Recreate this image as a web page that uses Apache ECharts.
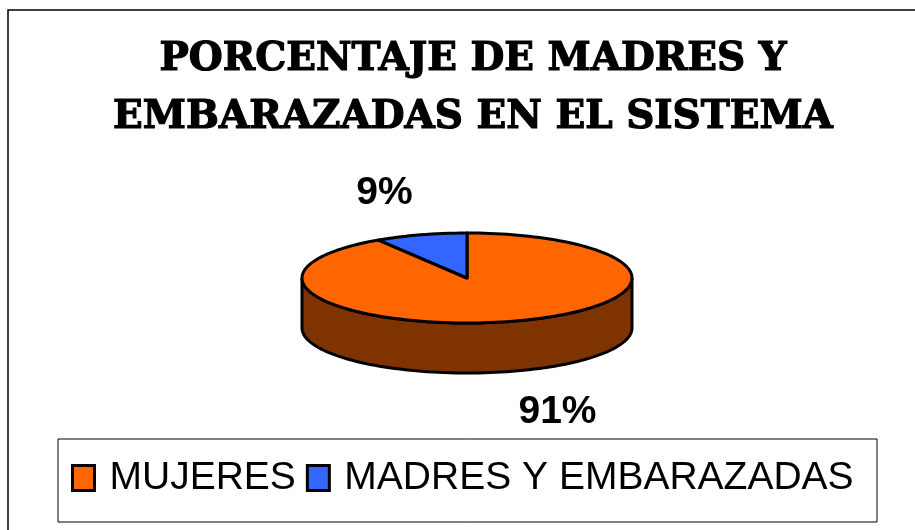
<!DOCTYPE html>
<html>
<head>
<meta charset="utf-8">
<script src="https://cdn.jsdelivr.net/npm/echarts@6/dist/echarts.min.js"></script>
<style>
  html, body { margin: 0; padding: 0; background: #fff; }
  #chart { width: 915px; height: 530px; }
</style>
</head>
<body>
<div id="chart"></div>
<script>
var categories = ['MUJERES', 'MADRES Y EMBARAZADAS'];
var values = [91, 9];
var topColors = ['#FF6600', '#3366FF'];
var sideColors = ['#7F3300', '#1A3380'];

// geometria del pastel "3D"
var cx = 467, cy = 278, rx = 165, ry = 45, depth = 50;
var labelRx = 310, labelRy = 88;

var total = values.reduce(function (a, b) { return a + b; }, 0);
// angulos: el primero va en sentido horario desde las 12
var starts = [], acc = 0;
values.forEach(function (v) {
    starts.push(acc / total * 360);
    acc += v;
});

function pt(deg, dy) {
    var r = deg * Math.PI / 180;
    return [cx + rx * Math.sin(r), cy - ry * Math.cos(r) + (dy || 0)];
}

function arc(a, b, dy) {
    var pts = [], step = 2;
    for (var d = a; d < b; d += step) pts.push(pt(d, dy));
    pts.push(pt(b, dy));
    return pts;
}

function makeSeries(idx) {
    return {
        name: categories[idx],
        type: 'custom',
        coordinateSystem: 'none',
        itemStyle: { color: topColors[idx] },
        data: [[values[idx]]],
        renderItem: function (params, api) {
            var v = api.value(0);
            var a = starts[idx];
            var b = a + v / total * 360;
            var children = [];
            // lado visible (mitad delantera, 90..270)
            var s = Math.max(a, 90), e = Math.min(b, 270);
            if (e > s) {
                var side = arc(s, e, 0).concat(arc(s, e, depth).reverse());
                children.push({
                    type: 'polygon',
                    shape: { points: side },
                    style: { fill: sideColors[idx], stroke: '#000', lineWidth: 3 }
                });
            }
            var top = [[cx, cy]].concat(arc(a, b, 0));
            children.push({
                type: 'polygon',
                shape: { points: top },
                style: { fill: topColors[idx], stroke: '#000', lineWidth: 3, lineJoin: 'round' }
            });
            // etiqueta de porcentaje
            var m = (a + b) / 2 * Math.PI / 180;
            var lx = cx + labelRx * Math.sin(m) + 4;
            var ly = cy - labelRy * Math.cos(m) + (Math.cos(m) < 0 ? depth : 0);
            children.push({
                type: 'text',
                x: lx, y: ly,
                style: {
                    text: Math.round(v / total * 100) + '%',
                    fill: '#000',
                    font: 'bold 39px "Liberation Sans", Arial, sans-serif',
                    align: 'center',
                    verticalAlign: 'middle'
                }
            });
            return { type: 'group', children: children };
        }
    };
}

var chart = echarts.init(document.getElementById('chart'), null, { renderer: 'canvas' });
chart.setOption({
    animation: false,
    backgroundColor: '#fff',
    title: {
        text: 'PORCENTAJE DE MADRES Y\nEMBARAZADAS EN EL SISTEMA',
        left: 473,
        top: 31,
        textAlign: 'center',
        padding: 0,
        textStyle: {
            fontFamily: 'DejaVu Serif',
            fontWeight: 'bold',
            fontSize: 39,
            lineHeight: 58,
            color: '#000',
            textBorderColor: '#000',
            textBorderWidth: 1.2
        }
    },
    legend: {
        data: categories,
        left: 71,
        top: 458,
        padding: 0,
        icon: 'rect',
        itemWidth: 22,
        itemHeight: 25,
        itemGap: 10,
        itemStyle: { borderColor: '#000', borderWidth: 3 },
        textStyle: {
            fontFamily: 'Liberation Sans',
            fontSize: 39,
            lineHeight: 40,
            color: '#000',
            padding: [0, 0, 0, 10]
        },
        selectedMode: false
    },
    graphic: [
        {
            type: 'rect',
            shape: { x: 8, y: 10, width: 1000, height: 1000 },
            style: { fill: null, stroke: '#000', lineWidth: 1.5 },
            z: -1
        },
        {
            type: 'rect',
            shape: { x: 58, y: 439, width: 819, height: 83 },
            style: { fill: null, stroke: '#000', lineWidth: 1 },
            z: -1
        }
    ],
    series: [makeSeries(0), makeSeries(1)]
});
</script>
</body>
</html>
